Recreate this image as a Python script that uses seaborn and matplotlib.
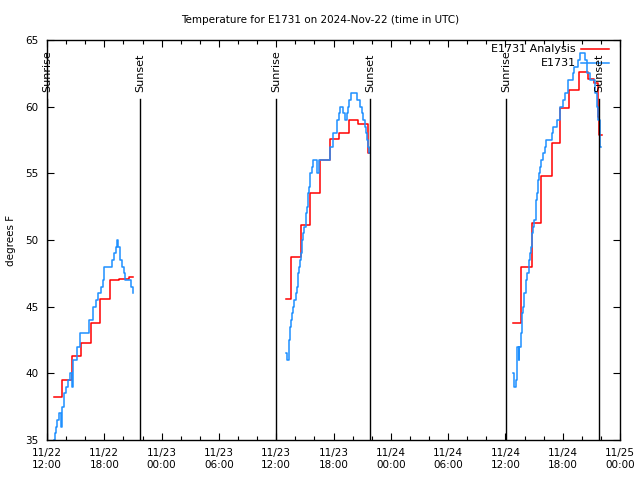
import numpy as np
import pandas as pd
import matplotlib
matplotlib.use('Agg')
import matplotlib.pyplot as plt
import matplotlib.dates as mdates
import matplotlib.transforms as mtrans
import seaborn as sns

# observed temperature (E1731), one block per daylight period
obs1_time = ["12:44", "12:50", "12:55", "13:05", "13:15", "13:30", "13:36", "13:47", "13:59",
             "14:12", "14:25", "14:39", "14:42", "15:10", "15:27", "16:22", "16:47", "16:51",
             "17:08", "17:22", "17:37", "17:50", "18:00", "18:50", "19:01", "19:12", "19:18",
             "19:28", "19:37", "19:41", "19:51", "20:06", "20:12", "20:50", "20:58", "21:03"]
obs1_temp = [35.0, 35.5, 36.0, 36.5, 37.0, 36.0, 37.5, 38.5, 39.0,
             39.5, 40.0, 39.0, 41.0, 42.0, 43.0, 44.0, 44.5, 45.0,
             45.5, 46.0, 46.5, 47.0, 48.0, 48.5, 49.0, 49.5, 50.0,
             49.5, 49.0, 48.5, 48.0, 47.5, 47.0, 46.5, 46.0, 46.0]

obs2_time = ["13:02", "13:10", "13:20", "13:27", "13:33", "13:41", "13:48", "13:54", "14:03",
             "14:09", "14:15", "14:19", "14:25", "14:30", "14:38", "14:42", "14:50", "14:57",
             "15:05", "15:09", "15:15", "15:18", "15:22", "15:28", "15:32", "15:43", "15:51",
             "16:16", "16:27", "17:38", "17:59", "18:24", "18:35", "18:41", "19:02", "19:12",
             "19:23", "19:29", "19:39", "19:48", "20:30", "20:47", "20:57", "21:07", "21:18",
             "21:24", "21:32", "21:39", "21:45", "21:49"]
obs2_temp = [41.5, 41.0, 42.5, 43.5, 44.0, 44.5, 45.0, 45.5, 46.0,
             46.5, 47.0, 47.5, 48.0, 48.5, 49.0, 50.0, 50.5, 51.0,
             51.5, 52.0, 52.5, 53.0, 53.5, 54.0, 55.0, 55.5, 56.0,
             55.0, 56.0, 57.0, 58.0, 59.0, 59.5, 60.0, 59.5, 59.0,
             59.5, 60.0, 60.5, 61.0, 60.5, 60.0, 59.5, 59.0, 58.5,
             58.0, 57.5, 57.0, 56.5, 56.5]

obs3_time = ["12:50", "12:56", "13:05", "13:11", "13:15", "13:26", "13:28", "13:36", "13:43",
             "13:46", "13:53", "13:59", "14:08", "14:18", "14:28", "14:35", "14:39", "14:47",
             "14:52", "15:02", "15:12", "15:14", "15:21", "15:27", "15:33", "15:40", "15:46",
             "15:58", "16:09", "16:13", "16:51", "17:01", "17:26", "17:43", "18:00", "18:15",
             "18:35", "19:07", "19:11", "19:38", "19:49", "20:20", "20:33", "20:52", "21:23",
             "21:34", "21:44", "21:54", "21:58"]
obs3_temp = [40.0, 39.0, 39.5, 40.5, 42.0, 41.0, 42.0, 43.0, 43.5,
             44.5, 45.0, 46.0, 47.0, 47.5, 48.5, 49.0, 49.5, 50.5,
             51.0, 51.5, 52.0, 53.0, 53.5, 54.5, 55.0, 55.5, 56.0,
             56.5, 57.0, 57.5, 58.0, 58.5, 59.0, 60.0, 60.5, 61.0,
             62.0, 62.5, 63.0, 63.5, 64.0, 63.5, 62.5, 62.0, 61.0,
             60.0, 59.0, 57.0, 57.0]

# analysis (hourly)
ana1_time = ["12:44", "13:37", "14:37", "15:35", "16:35", "17:35", "18:35", "19:35", "20:33", "21:02"]
ana1_temp = [38.2, 39.5, 41.3, 42.3, 43.75, 45.55, 47.0, 47.05, 47.2, 47.2]

ana2_time = ["13:02", "13:35", "14:38", "15:34", "16:37", "17:38", "18:37", "19:39", "20:36", "21:34", "21:40"]
ana2_temp = [45.6, 48.7, 51.1, 53.5, 56.0, 57.55, 58.05, 59.0, 58.7, 56.5, 56.5]

ana3_time = ["12:46", "13:40", "14:46", "15:43", "16:51", "17:45", "18:42", "19:43", "20:41",
             "21:17", "21:40", "21:47", "22:05"]
ana3_temp = [43.8, 48.0, 51.25, 54.8, 57.25, 59.9, 61.25, 62.6, 62.05,
             61.75, 59.2, 57.9, 57.9]

days = ["2024-11-22", "2024-11-23", "2024-11-24"]

sunrise = ["2024-11-22 12:00", "2024-11-23 11:59", "2024-11-24 12:03"]
sunset = ["2024-11-22 21:46", "2024-11-23 21:50", "2024-11-24 21:50"]


def build(day_list, times, temps):
    parts = []
    for i, (d, t, v) in enumerate(zip(day_list, times, temps)):
        parts.append(pd.DataFrame({
            'time': pd.to_datetime([d + ' ' + s for s in t]),
            'temp': v,
            'day': i,
        }))
    return pd.concat(parts, ignore_index=True)


obs = build(days, [obs1_time, obs2_time, obs3_time], [obs1_temp, obs2_temp, obs3_temp])
ana = build(days, [ana1_time, ana2_time, ana3_time], [ana1_temp, ana2_temp, ana3_temp])

plt.rcParams['font.family'] = ['DejaVu Sans']
plt.rcParams['font.size'] = 7.5

fig = plt.figure(figsize=(6.4, 4.8), dpi=100)
ax = fig.add_axes([47 / 640, 40 / 480, 573 / 640, 400 / 480])

sns.lineplot(data=ana, x='time', y='temp', units='day', estimator=None, color='#ff0000',
             lw=1.1, drawstyle='steps-post', legend=False, ax=ax)
sns.lineplot(data=obs, x='time', y='temp', units='day', estimator=None, color='#1e90ff',
             lw=1.1, drawstyle='steps-post', legend=False, ax=ax)

# sunrise / sunset markers
trans = mtrans.blended_transform_factory(ax.transData, ax.transAxes)
for label, stamps in (("Sunrise", sunrise), ("Sunset", sunset)):
    for s in stamps:
        x = mdates.date2num(pd.Timestamp(s))
        ax.axvline(x, ymin=0, ymax=0.8525, color='black', lw=1)
        ax.text(x, 0.87, label, rotation=90, ha='center', va='bottom', transform=trans,
                fontsize=8)

ax.set_xlim(pd.Timestamp("2024-11-22 12:00"), pd.Timestamp("2024-11-25 00:00"))
ax.set_ylim(35, 65)
ax.set_yticks(np.arange(35, 66, 5))
ax.xaxis.set_major_locator(mdates.HourLocator(byhour=[0, 6, 12, 18]))
ax.xaxis.set_minor_locator(mdates.HourLocator(byhour=range(0, 24, 2)))
ax.xaxis.set_major_formatter(mdates.DateFormatter('%m/%d\n%H:%M'))
ax.tick_params(which='major', direction='in', length=5, width=0.8, top=True, right=True, pad=6)
ax.tick_params(which='minor', direction='in', length=3, width=0.8, top=True, right=True)
for sp in ax.spines.values():
    sp.set_linewidth(1)
    sp.set_color('black')

ax.set_xlabel('')
ax.set_ylabel('degrees F')
ax.yaxis.set_label_coords(-0.054, 0.5)

fig.text(0.5, 1 - 20 / 480, 'Temperature for E1731 on 2024-Nov-22 (time in UTC)',
         ha='center', va='center')

# legend drawn in the gnuplot manner: text right aligned, sample to the right
for yy, lab, col in ((0.977, 'E1731 Analysis', '#ff0000'), (0.943, 'E1731', '#1e90ff')):
    ax.text(0.923, yy, lab, ha='right', va='center', transform=ax.transAxes, fontsize=8)
    ax.plot([0.932, 0.981], [yy, yy], color=col, lw=1.1, transform=ax.transAxes)

fig.savefig('out.png', dpi=100)
